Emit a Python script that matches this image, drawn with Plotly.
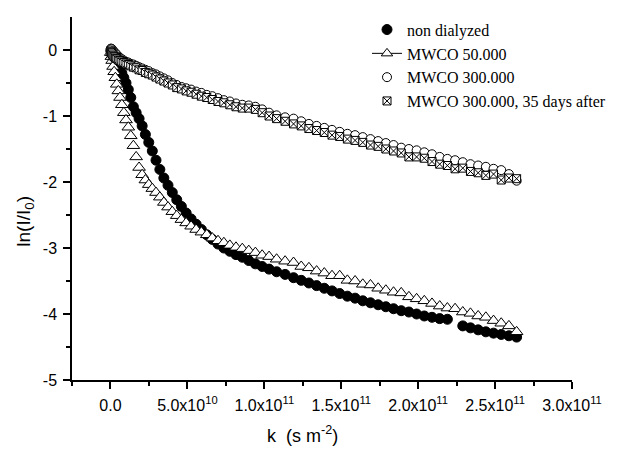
import plotly.graph_objects as go

# k values in units of 1e10 s m^-2
k_e10 = [0.02, 0.06, 0.11, 0.17, 0.24, 0.32, 0.41, 0.51, 0.62, 0.74,
         0.87, 1.01, 1.16, 1.32, 1.49, 1.67, 1.86, 2.06, 2.27, 2.49,
         2.72, 2.96, 3.21, 3.47, 3.74, 4.02, 4.31, 4.61, 4.92, 5.24,
         5.57, 5.91, 6.26, 6.62, 6.99, 7.37, 7.76, 8.16, 8.57, 8.99,
         9.42, 9.86, 10.31, 10.8, 11.35,
         11.9, 12.4, 12.9, 13.4, 13.9, 14.4, 14.9, 15.4, 15.9, 16.4,
         16.9, 17.4, 17.9, 18.4, 18.9, 19.4, 19.9, 20.4, 20.9, 21.4,
         21.9, 22.4, 22.9, 23.4, 23.9, 24.4, 24.9, 25.4, 25.9, 26.4]

non_dialyzed = [-0.01, -0.03, -0.05, -0.07, -0.10, -0.13, -0.17, -0.22, -0.28, -0.35,
                -0.42, -0.50, -0.60, -0.72, -0.86, -0.95, -1.04, -1.15, -1.28, -1.40,
                -1.53, -1.67, -1.81, -1.94, -2.05, -2.16, -2.27, -2.37, -2.47, -2.56,
                -2.64, -2.72, -2.80, -2.87, -2.94, -3.00, -3.05, -3.10, -3.14, -3.19,
                -3.24, -3.28, -3.32, -3.36, -3.40,
                -3.45, -3.49, -3.53, -3.57, -3.61, -3.65, -3.69, -3.73, -3.76, -3.80,
                -3.83, -3.86, -3.89, -3.92, -3.95, -3.97, -4.00, -4.03, -4.05, -4.07,
                -4.08, None, -4.18, -4.21, -4.24, -4.27, -4.29, -4.31, -4.33, -4.35]

mwco_50k = [-0.04, -0.10, -0.16, -0.25, -0.33, -0.42, -0.52, -0.62, -0.72, -0.83,
            -0.95, -1.06, -1.17, -1.30, -1.45, -1.62, -1.78, -1.89, -1.97, -2.04,
            -2.10, -2.16, -2.23, -2.31, -2.38, -2.45, -2.51, -2.57, -2.62, -2.67,
            -2.72, -2.76, -2.80, -2.85, -2.89, -2.92, -2.96, -2.99, -3.01, -3.04,
            -3.07, -3.11, -3.13, -3.17, -3.20,
            -3.22, -3.28, -3.30, -3.35, -3.38, -3.42, -3.42, -3.49, -3.50, -3.55,
            -3.56, -3.61, -3.64, -3.67, -3.68, -3.74, -3.77, -3.80, -3.84, -3.88,
            -3.91, -3.92, -3.97, -3.99, -4.03, -4.05, -4.10, -4.14, -4.18, -4.27]

mwco_300k = [0.02, 0.02, 0.01, -0.01, -0.03, -0.05, -0.07, -0.10, -0.12, -0.14,
             -0.16, -0.18, -0.19, -0.21, -0.22, -0.24, -0.26, -0.28, -0.30, -0.32,
             -0.35, -0.37, -0.40, -0.43, -0.46, -0.50, -0.53, -0.56, -0.58, -0.60,
             -0.63, -0.65, -0.68, -0.70, -0.73, -0.76, -0.78, -0.81, -0.83, -0.84,
             -0.86, -0.90, -0.95, -0.99, -1.02,
             -1.04, -1.08, -1.12, -1.15, -1.18, -1.21, -1.24, -1.27, -1.29, -1.32,
             -1.35, -1.38, -1.41, -1.44, -1.48, -1.50, -1.52, -1.55, -1.58, -1.62,
             -1.65, -1.67, -1.70, -1.73, -1.75, -1.77, -1.80, -1.82, -1.88, -1.98]

mwco_300k_35d = [-0.02, -0.04, -0.06, -0.08, -0.10, -0.12, -0.13, -0.15, -0.16, -0.18,
                 -0.19, -0.21, -0.22, -0.24, -0.26, -0.27, -0.30, -0.31, -0.34, -0.36,
                 -0.38, -0.41, -0.44, -0.47, -0.50, -0.53, -0.57, -0.59, -0.62, -0.64,
                 -0.67, -0.70, -0.72, -0.75, -0.78, -0.80, -0.83, -0.86, -0.88, -0.88,
                 -0.90, -0.95, -1.00, -1.04, -1.08,
                 -1.12, -1.15, -1.19, -1.22, -1.25, -1.29, -1.31, -1.35, -1.37, -1.40,
                 -1.44, -1.46, -1.50, -1.53, -1.56, -1.62, -1.62, -1.64, -1.69, -1.73,
                 -1.75, -1.80, -1.79, -1.84, -1.86, -1.90, -1.88, -1.97, -1.94, -1.95]

x_tickvals = [0, 5e10, 1e11, 1.5e11, 2e11, 2.5e11, 3e11]
x_ticktext = ["0.0", "5.0x10<sup>10</sup>", "1.0x10<sup>11</sup>", "1.5x10<sup>11</sup>",
              "2.0x10<sup>11</sup>", "2.5x10<sup>11</sup>", "3.0x10<sup>11</sup>"]
x_minor = [-2.5e10, 2.5e10, 7.5e10, 1.25e11, 1.75e11, 2.25e11, 2.75e11]
y_tickvals = [0, -1, -2, -3, -4, -5]
y_ticktext = ["0", "-1", "-2", "-3", "-4", "-5"]
y_minor = [-0.5, -1.5, -2.5, -3.5, -4.5]

k = [v * 1e10 for v in k_e10]

fig = go.Figure()
fig.add_trace(go.Scatter(
    x=k, y=non_dialyzed, mode="markers", name="non dialyzed",
    marker=dict(symbol="circle", size=10, color="black", line=dict(color="black", width=1)),
))
# legend entry for MWCO 50.000 (line + symbol, as in the original legend)
fig.add_trace(go.Scatter(
    x=[None], y=[None], mode="lines+markers", name="MWCO 50.000",
    line=dict(color="black", width=1),
    marker=dict(symbol="triangle-up", size=10, color="white", line=dict(color="black", width=1)),
))
fig.add_trace(go.Scatter(
    x=k, y=mwco_50k, mode="markers", name="MWCO 50.000", showlegend=False,
    marker=dict(symbol="triangle-up", size=11, color="white", line=dict(color="black", width=1)),
))
fig.add_trace(go.Scatter(
    x=k, y=mwco_300k, mode="markers", name="MWCO 300.000",
    marker=dict(symbol="circle", size=9, color="white", line=dict(color="black", width=1)),
))
fig.add_trace(go.Scatter(
    x=k, y=mwco_300k_35d, mode="markers", name="MWCO 300.000, 35 days after",
    marker=dict(symbol="square-x", size=8, color="white", line=dict(color="black", width=1)),
))

axis_common = dict(
    showline=True, linecolor="black", linewidth=1.5, mirror=False,
    ticks="outside", ticklen=7, tickwidth=1.5, tickcolor="black",
    showgrid=False, zeroline=False, automargin=False,
    tickfont=dict(family="Liberation Sans, Arial", size=16, color="black"),
)

fig.update_xaxes(
    range=[-2.5e10, 3.0e11], tickmode="array", tickvals=x_tickvals, ticktext=x_ticktext,
    minor=dict(tickmode="array", tickvals=x_minor, ticks="outside", ticklen=4,
               tickwidth=1.5, tickcolor="black"),
    ticklabelstandoff=3,
    **axis_common,
)
fig.update_yaxes(
    range=[-5, 0.5], tickmode="array", tickvals=y_tickvals, ticktext=y_ticktext,
    minor=dict(tickmode="array", tickvals=y_minor, ticks="outside", ticklen=4,
               tickwidth=1.5, tickcolor="black"),
    ticklabelstandoff=3,
    **axis_common,
)

fig.add_annotation(
    text="k  (s m<sup>-2</sup>)", xref="paper", yref="paper", x=0.46, y=-0.15,
    showarrow=False, xanchor="center", yanchor="middle",
    font=dict(family="Liberation Sans, Arial", size=18, color="black"),
)
fig.add_annotation(
    text="ln(I/I<sub>0</sub>)", xref="paper", yref="paper", x=-0.094, y=0.436,
    showarrow=False, xanchor="center", yanchor="middle", textangle=-90,
    font=dict(family="Liberation Sans, Arial", size=19, color="black"),
)

# the page body adds an 8 px offset; the figure is sized to fill the rest of the window
fig.update_layout(
    template="none",
    width=618, height=445,
    margin=dict(l=64, r=54, t=5, b=73, pad=0),
    paper_bgcolor="white", plot_bgcolor="white",
    showlegend=True,
    legend=dict(
        x=0.59, y=1.012, xanchor="left", yanchor="top",
        bgcolor="rgba(0,0,0,0)", borderwidth=0,
        font=dict(family="Liberation Serif, Times New Roman", size=16, color="black"),
        tracegroupgap=0,
    ),
)

fig.write_html("out.html")
